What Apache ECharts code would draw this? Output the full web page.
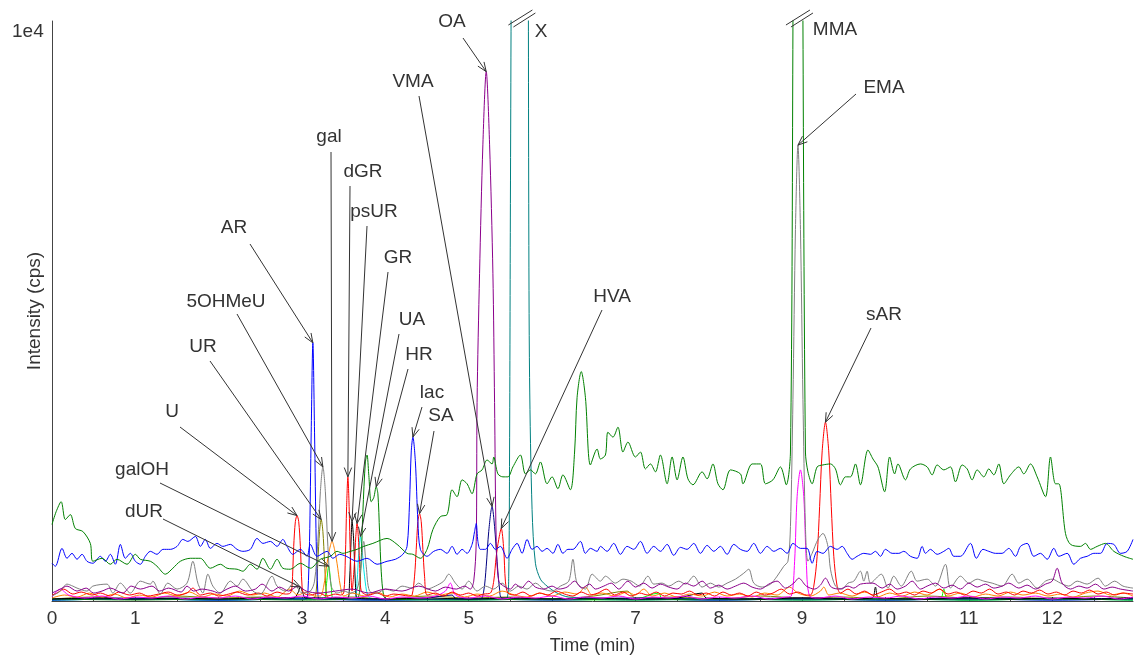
<!DOCTYPE html>
<html>
<head>
<meta charset="utf-8">
<script src="https://cdn.jsdelivr.net/npm/echarts@6/dist/echarts.min.js"></script>
<style>
html,body{margin:0;padding:0;background:#fff}
#chart{width:1139px;height:660px}
</style>
</head>
<body>
<div id="chart"></div>
<script>
// Extracted-ion chromatogram traces: [time (min), intensity]
const blueTrace = [[0.00,38],[0.04,35],[0.12,53],[0.18,43],[0.24,48],[0.30,42],[0.36,47],[0.42,40],[0.49,38],[0.58,45],[0.64,40],[0.70,47],[0.76,37],[0.82,57],[0.88,43],[0.94,48],[1.00,40],[1.06,37],[1.12,45],[1.18,50],[1.26,47],[1.33,52],[1.42,52],[1.50,55],[1.57,62],[1.63,60],[1.72,65],[1.78,55],[1.84,62],[1.90,53],[1.98,58],[2.05,55],[2.14,57],[2.22,52],[2.29,50],[2.38,52],[2.46,63],[2.53,58],[2.62,60],[2.70,55],[2.77,62],[2.82,55],[2.89,47],[2.98,52],[3.06,45],[3.10,57],[3.18,45],[3.30,50],[3.37,43],[3.45,47],[3.53,45],[3.66,40],[3.78,43],[3.90,37],[4.02,40],[4.12,42],[4.21,47],[4.26,55],[4.29,100],[4.31,150],[4.33,165],[4.36,140],[4.39,80],[4.42,52],[4.50,45],[4.58,50],[4.66,52],[4.74,48],[4.80,55],[4.86,47],[4.92,52],[4.98,48],[5.04,57],[5.07,70],[5.09,78],[5.11,60],[5.14,52],[5.20,52],[5.26,58],[5.32,52],[5.38,55],[5.46,43],[5.52,52],[5.58,58],[5.64,48],[5.70,62],[5.76,52],[5.82,55],[5.88,50],[5.94,53],[6.01,48],[6.07,57],[6.13,48],[6.19,52],[6.25,52],[6.34,60],[6.40,48],[6.46,53],[6.54,50],[6.58,55],[6.66,50],[6.74,58],[6.82,47],[6.90,55],[6.98,52],[7.06,60],[7.14,48],[7.22,55],[7.30,50],[7.38,57],[7.46,46],[7.54,54],[7.62,52],[7.70,58],[7.78,48],[7.86,56],[7.94,50],[8.02,55],[8.10,47],[8.18,57],[8.26,52],[8.34,50],[8.42,58],[8.50,48],[8.58,55],[8.66,50],[8.74,53],[8.82,48],[8.89,58],[8.98,53],[9.06,53],[9.12,38],[9.18,50],[9.25,48],[9.34,55],[9.42,52],[9.48,55],[9.54,48],[9.60,42],[9.66,45],[9.74,48],[9.82,47],[9.88,50],[9.94,45],[10.00,52],[10.08,48],[10.16,48],[10.22,50],[10.30,45],[10.38,43],[10.44,55],[10.48,48],[10.54,52],[10.62,47],[10.70,50],[10.76,53],[10.82,45],[10.90,45],[11.02,58],[11.09,43],[11.17,52],[11.24,50],[11.32,48],[11.40,48],[11.48,53],[11.56,45],[11.62,55],[11.70,58],[11.78,45],[11.86,48],[11.94,42],[12.02,53],[12.08,45],[12.18,48],[12.26,37],[12.34,43],[12.42,45],[12.50,48],[12.58,48],[12.66,58],[12.74,57],[12.82,48],[12.90,50],[12.97,62]];

const greenTrace = [[0.00,77],[0.05,90],[0.11,100],[0.16,82],[0.22,87],[0.28,73],[0.37,70],[0.46,58],[0.49,40],[0.60,43],[0.70,37],[0.78,42],[0.90,37],[1.00,47],[1.06,42],[1.18,40],[1.26,35],[1.36,27],[1.45,33],[1.54,40],[1.66,43],[1.78,43],[1.90,33],[2.02,37],[2.10,33],[2.22,32],[2.29,30],[2.38,37],[2.46,32],[2.53,43],[2.62,32],[2.70,42],[2.77,33],[2.86,32],[2.98,38],[3.10,33],[3.22,42],[3.34,45],[3.42,50],[3.49,48],[3.58,50],[3.66,52],[3.74,55],[3.85,58],[4.02,63],[4.14,57],[4.26,48],[4.33,47],[4.42,43],[4.50,52],[4.57,72],[4.66,85],[4.74,87],[4.80,112],[4.86,105],[4.92,122],[4.98,118],[5.04,108],[5.10,128],[5.16,132],[5.22,142],[5.28,138],[5.30,145],[5.35,128],[5.41,125],[5.47,125],[5.53,135],[5.62,147],[5.68,128],[5.74,132],[5.80,128],[5.86,140],[5.94,118],[6.00,125],[6.07,113],[6.13,127],[6.22,112],[6.27,150],[6.30,205],[6.35,231],[6.40,205],[6.46,137],[6.54,153],[6.58,143],[6.64,147],[6.67,170],[6.73,165],[6.79,175],[6.85,150],[6.91,160],[7.00,145],[7.06,150],[7.12,133],[7.18,138],[7.24,130],[7.30,147],[7.38,118],[7.44,145],[7.50,122],[7.57,145],[7.63,123],[7.69,117],[7.80,130],[7.86,123],[7.93,138],[7.99,118],[8.05,112],[8.14,132],[8.26,128],[8.29,118],[8.40,138],[8.50,138],[8.56,118],[8.65,122],[8.74,135],[8.81,117],[8.86,150],[8.89,580],[8.92,1300],[8.95,1600],[8.98,1300],[9.01,580],[9.04,150],[9.07,130],[9.12,118],[9.18,135],[9.25,137],[9.34,138],[9.40,133],[9.46,117],[9.52,125],[9.58,125],[9.64,138],[9.70,117],[9.79,152],[9.85,143],[9.91,135],[9.99,110],[10.05,145],[10.11,128],[10.15,138],[10.24,122],[10.30,133],[10.42,138],[10.50,135],[10.56,127],[10.62,137],[10.70,132],[10.78,135],[10.84,120],[10.92,137],[10.98,133],[11.04,122],[11.10,132],[11.18,125],[11.24,133],[11.30,127],[11.36,138],[11.42,118],[11.50,127],[11.60,135],[11.66,128],[11.74,138],[11.82,125],[11.92,105],[11.98,145],[12.04,118],[12.08,118],[12.16,68],[12.22,57],[12.34,55],[12.40,58],[12.46,52],[12.54,55],[12.64,58],[12.74,50],[12.86,45],[12.97,42]];

const grayTrace = [[0.00,5],[0.10,10],[0.18,17],[0.25,15],[0.30,13],[0.42,10],[0.49,15],[0.66,17],[0.73,8],[0.82,18],[0.94,8],[1.06,20],[1.18,17],[1.21,20],[1.30,7],[1.39,18],[1.50,12],[1.62,18],[1.69,40],[1.75,18],[1.81,8],[1.87,27],[1.93,15],[2.02,8],[2.14,20],[2.22,15],[2.29,22],[2.41,10],[2.50,7],[2.64,25],[2.70,15],[2.80,10],[2.90,18],[3.00,8],[3.10,10],[3.15,20],[3.19,60],[3.22,110],[3.25,135],[3.28,110],[3.31,55],[3.35,15],[3.42,8],[3.50,10],[3.58,8],[3.66,12],[3.70,30],[3.74,60],[3.77,35],[3.81,10],[3.90,8],[4.00,12],[4.10,10],[4.20,15],[4.32,13],[4.40,18],[4.50,12],[4.60,15],[4.70,20],[4.76,27],[4.84,18],[4.92,12],[5.00,20],[5.10,10],[5.20,15],[5.30,12],[5.40,18],[5.50,10],[5.60,15],[5.70,12],[5.80,18],[5.90,12],[6.00,10],[6.10,15],[6.20,20],[6.25,42],[6.30,18],[6.40,12],[6.48,27],[6.58,20],[6.64,25],[6.76,18],[6.85,22],[6.95,20],[7.05,15],[7.15,25],[7.22,17],[7.32,18],[7.40,15],[7.52,20],[7.60,17],[7.70,25],[7.80,14],[7.90,18],[8.00,14],[8.10,18],[8.20,22],[8.30,28],[8.36,32],[8.42,18],[8.52,14],[8.62,17],[8.70,25],[8.78,35],[8.83,40],[8.86,75],[8.89,203],[8.92,374],[8.95,459],[8.98,374],[9.01,203],[9.04,74],[9.07,40],[9.12,48],[9.19,62],[9.25,68],[9.31,55],[9.34,32],[9.40,15],[9.48,12],[9.55,18],[9.62,20],[9.70,30],[9.74,20],[9.78,30],[9.82,18],[9.95,27],[10.03,13],[10.10,25],[10.19,15],[10.31,30],[10.38,20],[10.50,22],[10.60,15],[10.72,37],[10.78,13],[10.90,25],[11.00,18],[11.10,22],[11.18,20],[11.28,18],[11.40,15],[11.52,27],[11.60,18],[11.70,22],[11.82,13],[11.92,20],[12.00,22],[12.10,18],[12.20,15],[12.30,20],[12.42,17],[12.55,23],[12.64,15],[12.75,20],[12.85,15],[12.97,13]];

const purpleTrace = [[0.00,8],[0.10,12],[0.18,15],[0.30,10],[0.41,13],[0.50,8],[0.60,10],[0.70,13],[0.85,8],[0.95,15],[1.06,12],[1.20,15],[1.29,10],[1.40,13],[1.55,9],[1.62,15],[1.70,10],[1.80,12],[1.93,10],[2.00,8],[2.10,12],[2.20,15],[2.32,10],[2.44,12],[2.52,17],[2.64,10],[2.73,14],[2.84,10],[2.95,15],[3.05,10],[3.20,8],[3.40,10],[3.60,12],[3.80,8],[4.00,12],[4.20,10],[4.40,15],[4.60,10],[4.72,14],[4.85,12],[4.95,15],[5.02,12],[5.06,20],[5.09,60],[5.10,200],[5.13,330],[5.17,460],[5.21,533],[5.25,460],[5.29,330],[5.31,200],[5.33,60],[5.36,20],[5.42,15],[5.50,12],[5.56,17],[5.63,13],[5.72,20],[5.80,14],[5.90,12],[6.00,15],[6.08,12],[6.18,14],[6.27,20],[6.36,13],[6.45,17],[6.52,12],[6.62,15],[6.71,18],[6.80,12],[6.91,20],[7.00,14],[7.10,18],[7.20,13],[7.30,17],[7.40,14],[7.50,12],[7.60,18],[7.70,15],[7.80,20],[7.90,13],[8.00,16],[8.10,12],[8.20,15],[8.30,18],[8.40,14],[8.50,12],[8.60,17],[8.70,20],[8.80,13],[8.90,18],[8.96,23],[9.05,15],[9.15,12],[9.22,16],[9.28,23],[9.35,14],[9.45,12],[9.55,15],[9.62,13],[9.70,17],[9.85,18],[9.96,13],[10.05,17],[10.14,12],[10.24,15],[10.32,20],[10.42,12],[10.50,15],[10.60,18],[10.70,13],[10.80,16],[10.90,12],[11.00,18],[11.10,14],[11.20,17],[11.30,13],[11.40,15],[11.48,18],[11.60,13],[11.70,16],[11.80,12],[11.92,17],[12.00,20],[12.06,33],[12.12,18],[12.22,12],[12.32,15],[12.42,13],[12.52,17],[12.62,12],[12.72,14],[12.82,12],[12.97,10]];

const redTrace = [[0.00,6],[0.06,8],[0.14,12],[0.25,7],[0.35,9],[0.48,6],[0.58,8],[0.70,5],[0.80,9],[0.93,6],[1.05,8],[1.15,5],[1.28,7],[1.40,9],[1.50,6],[1.62,8],[1.69,13],[1.78,6],[1.90,8],[2.00,5],[2.12,7],[2.22,9],[2.35,6],[2.48,8],[2.58,5],[2.70,9],[2.80,7],[2.86,8],[2.88,15],[2.90,55],[2.92,80],[2.94,86],[2.96,80],[2.98,55],[3.00,15],[3.02,8],[3.10,6],[3.20,8],[3.30,5],[3.40,7],[3.46,6],[3.50,8],[3.52,45],[3.535,95],[3.55,125],[3.565,95],[3.58,45],[3.60,10],[3.63,40],[3.645,65],[3.66,78],[3.675,65],[3.69,40],[3.71,10],[3.80,6],[3.90,8],[4.00,5],[4.10,7],[4.20,6],[4.28,5],[4.32,6],[4.35,25],[4.37,52],[4.39,80],[4.41,88],[4.43,80],[4.45,52],[4.47,25],[4.50,6],[4.60,8],[4.70,5],[4.80,9],[4.90,6],[5.00,8],[5.10,5],[5.18,7],[5.26,8],[5.30,20],[5.33,45],[5.36,62],[5.39,73],[5.42,52],[5.44,20],[5.47,8],[5.55,6],[5.65,9],[5.75,5],[5.85,8],[5.95,6],[6.05,10],[6.15,7],[6.25,5],[6.35,9],[6.45,6],[6.55,8],[6.65,12],[6.75,6],[6.85,9],[6.95,5],[7.05,8],[7.15,6],[7.25,9],[7.35,5],[7.45,8],[7.55,7],[7.65,10],[7.75,6],[7.85,8],[7.95,5],[8.05,9],[8.15,6],[8.25,8],[8.35,5],[8.45,9],[8.55,6],[8.65,8],[8.75,12],[8.85,7],[8.95,9],[9.05,6],[9.10,6],[9.14,15],[9.18,45],[9.21,95],[9.24,150],[9.28,180],[9.32,150],[9.35,95],[9.38,45],[9.42,15],[9.46,8],[9.55,12],[9.65,7],[9.75,10],[9.85,6],[9.95,9],[10.05,12],[10.15,7],[10.25,9],[10.35,6],[10.45,10],[10.55,8],[10.65,12],[10.75,7],[10.85,9],[10.95,6],[11.05,10],[11.15,8],[11.25,12],[11.35,7],[11.45,9],[11.55,6],[11.65,10],[11.75,8],[11.85,11],[11.95,7],[12.05,9],[12.15,6],[12.25,10],[12.35,8],[12.45,11],[12.55,7],[12.65,9],[12.75,6],[12.85,8],[12.97,7]];

const orangeTrace = [[0.00,3],[0.15,6],[0.30,4],[0.45,8],[0.60,4],[0.75,7],[0.90,3],[1.05,6],[1.20,4],[1.35,8],[1.50,5],[1.65,9],[1.80,4],[1.95,7],[2.10,5],[2.25,10],[2.40,6],[2.55,8],[2.70,4],[2.85,12],[2.95,6],[3.05,9],[3.15,5],[3.22,5],[3.26,15],[3.30,38],[3.33,52],[3.36,60],[3.39,52],[3.42,38],[3.46,15],[3.50,5],[3.60,8],[3.75,5],[3.90,9],[4.05,4],[4.20,7],[4.35,5],[4.50,9],[4.65,6],[4.80,8],[4.95,4],[5.10,7],[5.25,5],[5.40,10],[5.55,6],[5.70,4],[5.85,8],[6.00,5],[6.15,9],[6.30,7],[6.40,14],[6.48,6],[6.60,8],[6.75,5],[6.90,9],[7.00,6],[7.10,12],[7.20,5],[7.35,8],[7.50,4],[7.65,7],[7.80,5],[7.95,9],[8.10,5],[8.25,7],[8.40,4],[8.55,8],[8.70,6],[8.85,14],[8.95,8],[9.10,5],[9.22,10],[9.26,14],[9.32,6],[9.45,8],[9.60,5],[9.75,9],[9.90,4],[10.05,8],[10.20,5],[10.35,9],[10.50,6],[10.65,12],[10.75,5],[10.90,8],[11.05,4],[11.20,7],[11.35,5],[11.50,9],[11.65,6],[11.80,8],[11.95,5],[12.10,7],[12.25,4],[12.40,8],[12.55,10],[12.70,6],[12.85,8],[12.97,5]];

const magentaTrace = [[0.00,4],[0.10,12],[0.20,6],[0.40,3],[0.60,5],[0.80,2],[1.00,4],[1.20,3],[1.40,5],[1.60,2],[1.80,4],[2.00,3],[2.20,5],[2.40,2],[2.60,4],[2.80,3],[3.00,5],[3.20,2],[3.40,4],[3.60,3],[3.80,5],[4.00,2],[4.20,4],[4.40,3],[4.60,5],[4.72,10],[4.78,18],[4.84,6],[5.00,3],[5.20,5],[5.40,2],[5.60,4],[5.80,3],[6.00,5],[6.20,2],[6.40,4],[6.60,3],[6.80,5],[7.00,2],[7.20,4],[7.40,3],[7.60,5],[7.80,2],[8.00,4],[8.20,3],[8.40,5],[8.60,2],[8.80,4],[8.87,5],[8.91,40],[8.94,105],[8.98,132],[9.02,105],[9.05,40],[9.09,5],[9.20,3],[9.40,5],[9.60,2],[9.80,4],[10.00,3],[10.20,5],[10.40,2],[10.60,4],[10.80,3],[11.00,5],[11.20,2],[11.40,4],[11.60,3],[11.80,5],[12.00,2],[12.20,4],[12.40,3],[12.60,5],[12.80,2],[12.97,4]];

const oliveTrace = [[0.00,2],[0.50,4],[1.00,2],[1.50,5],[2.00,3],[2.50,4],[3.00,3],[3.14,3],[3.17,10],[3.19,40],[3.21,70],[3.23,82],[3.25,70],[3.27,40],[3.29,10],[3.32,3],[3.60,4],[4.00,2],[4.50,5],[5.00,3],[5.50,4],[6.00,2],[6.50,5],[6.90,10],[7.00,3],[7.50,4],[8.00,2],[8.50,5],[9.00,3],[9.50,4],[10.00,2],[10.50,5],[11.00,3],[11.50,4],[12.00,2],[12.50,5],[12.97,3]];

const limeTrace = [[0.00,1],[1.00,2],[2.00,1],[3.00,2],[3.26,2],[3.29,15],[3.32,35],[3.35,15],[3.38,2],[4.00,1],[5.00,2],[6.00,1],[7.00,2],[7.28,8],[7.32,2],[8.00,1],[9.00,2],[10.00,1],[10.66,3],[10.70,12],[10.74,3],[11.00,1],[12.00,2],[12.97,1]];

const blackTrace = [[0.00,2],[0.50,3],[1.00,2],[1.50,3],[2.00,2],[2.50,3],[2.90,3],[2.95,8],[2.98,14],[3.01,8],[3.04,3],[3.30,3],[3.55,3],[3.57,20],[3.59,65],[3.60,80],[3.62,60],[3.64,18],[3.66,3],[4.00,2],[4.50,3],[5.00,2],[5.50,3],[6.00,2],[6.50,3],[7.00,2],[7.50,3],[7.80,8],[7.85,3],[8.50,2],[9.00,3],[9.50,2],[9.84,3],[9.88,14],[9.92,3],[10.50,2],[11.00,3],[11.50,2],[12.00,3],[12.50,2],[12.97,3]];

const cyanTrace = [[0.00,1],[1.00,2],[2.00,1],[3.00,2],[3.63,2],[3.66,20],[3.68,48],[3.70,65],[3.72,52],[3.75,25],[3.79,5],[3.85,2],[5.00,1],[6.00,2],[7.00,1],[8.00,2],[9.00,1],[10.00,2],[11.00,1],[12.00,2],[12.97,1]];

const navyTrace = [[0.00,2],[1.00,3],[2.00,2],[3.00,3],[4.00,2],[4.50,3],[4.80,6],[4.85,2],[5.14,2],[5.18,10],[5.21,35],[5.24,70],[5.28,95],[5.31,75],[5.34,40],[5.37,12],[5.40,3],[6.00,2],[7.00,3],[8.00,2],[9.00,3],[10.00,2],[11.00,3],[12.00,2],[12.97,3]];

const arTrace = [[0.00,1],[1.00,2],[2.00,1],[3.00,2],[3.05,2],[3.07,8],[3.09,60],[3.11,170],[3.13,260],[3.15,170],[3.17,60],[3.19,8],[3.21,2],[4.00,1],[5.00,2],[6.00,1],[7.00,2],[8.00,1],[9.00,2],[10.00,1],[11.00,2],[12.00,1],[12.97,2]];

const greenPeakTrace = [[0.00,2],[1.00,1],[2.00,2],[3.00,1],[3.66,3],[3.70,25],[3.73,90],[3.76,140],[3.78,147],[3.80,128],[3.83,100],[3.86,104],[3.89,115],[3.91,108],[3.93,70],[3.95,30],[3.98,5],[4.02,2],[5.00,1],[6.00,2],[7.00,1],[8.00,2],[9.00,1],[10.00,2],[11.00,1],[12.00,2],[12.97,1]];

const tealTrace = [[0.00,1],[1.00,2],[2.00,1],[3.00,2],[4.00,1],[5.00,2],[5.40,2],[5.46,3],[5.48,25],[5.49,150],[5.50,400],[5.52,800],[5.56,1200],[5.62,1300],[5.68,1200],[5.71,800],[5.72,400],[5.73,225],[5.76,92],[5.80,38],[5.86,22],[5.94,15],[6.06,8],[6.20,4],[7.00,2],[8.00,1],[9.00,2],[10.00,1],[11.00,2],[12.00,1],[12.97,2]];

// Axis extents
const timeMax = 12.97;
const intensityMax = 584;

// Trace styling, drawn back to front
const traces = [
  {name: 'lime', data: limeTrace, color: '#00ff00'},
  {name: 'olive', data: oliveTrace, color: '#808000'},
  {name: 'cyan', data: cyanTrace, color: '#00e5e5'},
  {name: 'navy', data: navyTrace, color: '#000080'},
  {name: 'teal', data: tealTrace, color: '#008080'},
  {name: 'blueAR', data: arTrace, color: '#0000ff'},
  {name: 'greenPeaks', data: greenPeakTrace, color: '#008000'},
  {name: 'black', data: blackTrace, color: '#000000'},
  {name: 'orange', data: orangeTrace, color: '#ff8000'},
  {name: 'magenta', data: magentaTrace, color: '#ff00ff'},
  {name: 'red', data: redTrace, color: '#ff0000'},
  {name: 'gray', data: grayTrace, color: '#808080'},
  {name: 'purple', data: purpleTrace, color: '#8b008b'},
  {name: 'blue', data: blueTrace, color: '#0000ff'},
  {name: 'green', data: greenTrace, color: '#008000'}
];

// Peak callouts: label centre and leader start are page layout; the arrow tip is the apex of the trace in the window
const callouts = [
  {text: 'OA', trace: purpleTrace, win: [5.1, 5.3], label: [452, 22], from: [463, 38]},
  {text: 'VMA', trace: navyTrace, win: [5.2, 5.35], label: [413, 82], from: [419, 96]},
  {text: 'HVA', trace: redTrace, win: [5.3, 5.45], label: [612, 297], from: [602, 310]},
  {text: 'EMA', trace: grayTrace, win: [8.9, 9.0], label: [884, 88], from: [856, 94]},
  {text: 'sAR', trace: redTrace, win: [9.2, 9.35], label: [884, 315], from: [871, 328]},
  {text: 'gal', trace: orangeTrace, win: [3.3, 3.42], label: [329, 137], from: [331, 152]},
  {text: 'dGR', trace: redTrace, win: [3.5, 3.6], label: [363, 172], from: [350, 186]},
  {text: 'psUR', trace: blackTrace, win: [3.55, 3.65], label: [374, 212], from: [367, 226]},
  {text: 'GR', trace: redTrace, win: [3.62, 3.7], label: [398, 258], from: [388, 272]},
  {text: 'UA', trace: cyanTrace, win: [3.65, 3.76], label: [412, 320], from: [399, 334]},
  {text: 'HR', trace: greenPeakTrace, win: [3.85, 3.95], label: [419, 355], from: [408, 369]},
  {text: 'lac', trace: blueTrace, win: [4.25, 4.4], label: [432, 393], from: [422, 407]},
  {text: 'SA', trace: redTrace, win: [4.35, 4.47], label: [441, 416], from: [434, 431]},
  {text: 'AR', trace: arTrace, win: [3.05, 3.2], label: [234, 228], from: [250, 244]},
  {text: '5OHMeU', trace: grayTrace, win: [3.2, 3.3], label: [226, 302], from: [237, 314]},
  {text: 'UR', trace: oliveTrace, win: [3.18, 3.28], label: [203, 347], from: [210, 361]},
  {text: 'U', trace: redTrace, win: [2.9, 3.0], label: [172, 412], from: [180, 427]},
  {text: 'galOH', trace: limeTrace, win: [3.28, 3.36], label: [142, 470], from: [160, 483]},
  {text: 'dUR', trace: blackTrace, win: [2.94, 3.02], label: [144, 512], from: [163, 519]}
];
const plainLabels = [
  {text: 'X', label: [541, 32]},
  {text: 'MMA', label: [835, 30]}
];
// Off-scale peaks get a break mark where they leave the plot
const offScale = [
  {trace: tealTrace, win: [5.5, 5.7]},
  {trace: greenTrace, win: [8.9, 9.0]}
];

function apex(trace, t0, t1) {
  let best = null;
  for (const p of trace) {
    if (p[0] >= t0 && p[0] <= t1 && (!best || p[1] > best[1])) best = p;
  }
  return best;
}

const FONT = '"Liberation Sans", Arial, Helvetica, sans-serif';
const TEXT_COLOR = '#333';
const AXIS_COLOR = '#444';
const LABEL_SIZE = 19;

const chart = echarts.init(document.getElementById('chart'), null, {renderer: 'canvas'});

chart.setOption({
  animation: false,
  backgroundColor: '#fff',
  grid: {left: 52, right: 6, top: 21, bottom: 55, containLabel: false},
  xAxis: {
    type: 'value',
    min: 0,
    max: timeMax,
    interval: 0.5,
    name: 'Time (min)',
    nameLocation: 'middle',
    nameGap: 36,
    nameTextStyle: {fontFamily: FONT, fontSize: 18, color: TEXT_COLOR},
    axisLine: {show: true, onZero: false, lineStyle: {color: AXIS_COLOR, width: 1}},
    axisTick: {show: true, inside: true, length: 4, lineStyle: {color: AXIS_COLOR}},
    axisLabel: {
      show: true, margin: 8, fontFamily: FONT, fontSize: LABEL_SIZE, color: TEXT_COLOR,
      showMaxLabel: false,
      formatter: v => (Math.abs(v - Math.round(v)) < 1e-6 ? String(Math.round(v)) : '')
    },
    splitLine: {show: false}
  },
  yAxis: {
    type: 'value',
    min: 0,
    max: intensityMax,
    name: 'Intensity (cps)',
    nameLocation: 'middle',
    nameRotate: 90,
    nameGap: 8,
    nameTextStyle: {fontFamily: FONT, fontSize: 19, color: TEXT_COLOR},
    axisLine: {show: true, lineStyle: {color: AXIS_COLOR, width: 1}},
    axisTick: {show: false},
    axisLabel: {show: false},
    splitLine: {show: false}
  },
  series: traces.map((tr, i) => ({
    name: tr.name,
    type: 'line',
    data: tr.data,
    showSymbol: false,
    smooth: 0.3,
    clip: true,
    silent: true,
    z: 2 + i * 0.01,
    lineStyle: {color: tr.color, width: 1},
    itemStyle: {color: tr.color}
  }))
});

// Annotation layer
function buildGraphics() {
  const g = [];
  g.push({
    type: 'text', left: 12, top: 22, z: 100,
    style: {text: '1e4', font: LABEL_SIZE + 'px ' + FONT, fill: TEXT_COLOR}
  });
  const lineStyle = {stroke: '#333', lineWidth: 1, fill: null};
  for (const c of callouts) {
    const pk = apex(c.trace, c.win[0], c.win[1]);
    const tip = chart.convertToPixel({gridIndex: 0}, pk);
    const [sx, sy] = c.from;
    const dx = tip[0] - sx, dy = tip[1] - sy;
    const len = Math.hypot(dx, dy);
    const ux = dx / len, uy = dy / len;
    const hl = 10, ang = 0.38;
    const cos = Math.cos(ang), sin = Math.sin(ang);
    const b1 = [tip[0] - hl * (ux * cos - uy * sin), tip[1] - hl * (uy * cos + ux * sin)];
    const b2 = [tip[0] - hl * (ux * cos + uy * sin), tip[1] - hl * (uy * cos - ux * sin)];
    g.push({type: 'line', z: 100, shape: {x1: sx, y1: sy, x2: tip[0], y2: tip[1]}, style: lineStyle});
    g.push({type: 'polyline', z: 100, shape: {points: [b1, tip, b2]}, style: lineStyle});
    g.push({
      type: 'text', z: 100, x: c.label[0], y: c.label[1],
      style: {text: c.text, font: LABEL_SIZE + 'px ' + FONT, fill: TEXT_COLOR, align: 'center', verticalAlign: 'middle'}
    });
  }
  for (const p of plainLabels) {
    g.push({
      type: 'text', z: 100, x: p.label[0], y: p.label[1],
      style: {text: p.text, font: LABEL_SIZE + 'px ' + FONT, fill: TEXT_COLOR, align: 'center', verticalAlign: 'middle'}
    });
  }
  for (const o of offScale) {
    const pk = apex(o.trace, o.win[0], o.win[1]);
    const top = chart.convertToPixel({gridIndex: 0}, [pk[0], intensityMax]);
    const cx = top[0], cy = top[1];
    g.push({type: 'line', z: 100, shape: {x1: cx - 12, y1: cy + 4, x2: cx + 12, y2: cy - 11}, style: lineStyle});
    g.push({type: 'line', z: 100, shape: {x1: cx - 7, y1: cy + 6, x2: cx + 15, y2: cy - 8}, style: lineStyle});
  }
  return g;
}

chart.setOption({graphic: buildGraphics()});
</script>
</body>
</html>
